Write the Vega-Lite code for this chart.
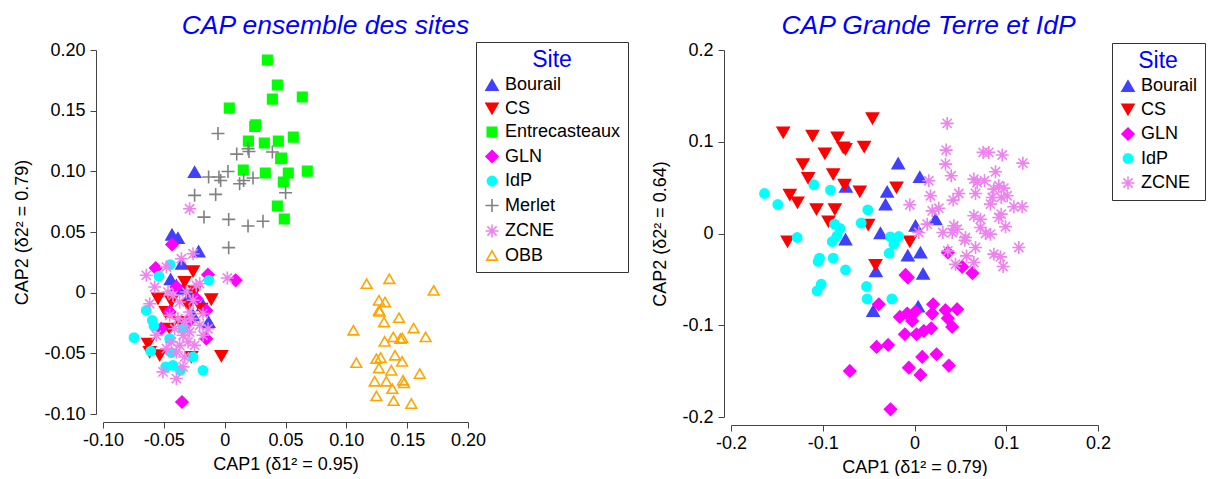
{
  "$schema": "https://vega.github.io/schema/vega-lite/v6.json",
  "padding": {"left": 13, "top": 13, "right": 0, "bottom": 0},
  "background": "white",
  "spacing": 22,
  "align": "none",
  "bounds": "full",
  "config": {
    "view": {"stroke": null},
    "axis": {
      "grid": false, "domainColor": "#444", "tickColor": "#444", "tickSize": 6, "labelFlush": false,
      "labelFont": "Liberation Sans", "labelFontSize": 18, "labelColor": "black", "labelOverlap": false,
      "titleFont": "Liberation Sans", "titleFontSize": 18, "titleFontWeight": "normal", "titleColor": "black"
    },
    "axisX": {"offset": 8, "labelPadding": 3, "titlePadding": 6},
    "axisY": {"offset": 7, "labelPadding": 5, "titlePadding": 12},
    "title": {"font": "Liberation Sans", "fontSize": 26.5, "fontStyle": "italic", "fontWeight": "normal", "color": "#0000FF", "anchor": "middle", "frame": "group", "baseline": "alphabetic", "offset": 1.5},
    "legend": {
      "padding": 7, "strokeColor": "#333", "fillColor": "white",
      "titleColor": "#0000FF", "titleFont": "Liberation Sans", "titleFontSize": 23, "titleFontWeight": "normal", "titleAnchor": "middle", "titlePadding": 4,
      "labelFont": "Liberation Sans", "labelFontSize": 18, "labelColor": "black", "labelOffset": 4, "rowPadding": 5.5,
      "symbolSize": 169, "symbolStrokeWidth": 1.6
    }
  },
  "datasets": {
    "all": [
      {"Site":"Bourail","CAP1":-0.0247,"CAP2":0.0994},{"Site":"Bourail","CAP1":-0.0433,"CAP2":0.0478},{"Site":"Bourail","CAP1":-0.0384,"CAP2":0.0450},{"Site":"Bourail","CAP1":-0.0214,"CAP2":0.0340},{"Site":"Bourail","CAP1":-0.0351,"CAP2":0.0239},{"Site":"Bourail","CAP1":-0.0444,"CAP2":0.0110},{"Site":"Bourail","CAP1":-0.0260,"CAP2":-0.0187},{"Site":"Bourail","CAP1":-0.0132,"CAP2":-0.0242},{"Site":"Bourail","CAP1":-0.0288,"CAP2":-0.0022},{"Site":"Bourail","CAP1":-0.0342,"CAP2":0.0033},{"Site":"Bourail","CAP1":-0.0397,"CAP2":0.0060},{"Site":"Bourail","CAP1":-0.0178,"CAP2":-0.0104},
      {"Site":"CS","CAP1":-0.0260,"CAP2":0.0176},{"Site":"CS","CAP1":-0.0110,"CAP2":-0.0055},{"Site":"CS","CAP1":-0.0027,"CAP2":-0.0522},{"Site":"CS","CAP1":-0.0548,"CAP2":-0.0049},{"Site":"CS","CAP1":-0.0630,"CAP2":-0.0420},{"Site":"CS","CAP1":-0.0534,"CAP2":-0.0516},{"Site":"CS","CAP1":-0.0616,"CAP2":-0.0489},{"Site":"CS","CAP1":-0.0438,"CAP2":-0.0071},{"Site":"CS","CAP1":-0.0247,"CAP2":0.0011},{"Site":"CS","CAP1":-0.0485,"CAP2":-0.0159},{"Site":"CS","CAP1":-0.0301,"CAP2":-0.0104},{"Site":"CS","CAP1":-0.0452,"CAP2":-0.0297},{"Site":"CS","CAP1":-0.0370,"CAP2":-0.0242},{"Site":"CS","CAP1":-0.0274,"CAP2":-0.0530},{"Site":"CS","CAP1":-0.0192,"CAP2":-0.0132},{"Site":"CS","CAP1":-0.0329,"CAP2":0.0088},
      {"Site":"Entrecasteaux","CAP1":0.0351,"CAP2":0.1917},{"Site":"Entrecasteaux","CAP1":0.0433,"CAP2":0.1711},{"Site":"Entrecasteaux","CAP1":0.0392,"CAP2":0.1595},{"Site":"Entrecasteaux","CAP1":0.0638,"CAP2":0.1612},{"Site":"Entrecasteaux","CAP1":0.0038,"CAP2":0.1521},{"Site":"Entrecasteaux","CAP1":0.0247,"CAP2":0.1370},{"Site":"Entrecasteaux","CAP1":0.0255,"CAP2":0.1384},{"Site":"Entrecasteaux","CAP1":0.0195,"CAP2":0.1249},{"Site":"Entrecasteaux","CAP1":0.0326,"CAP2":0.1233},{"Site":"Entrecasteaux","CAP1":0.0441,"CAP2":0.1249},{"Site":"Entrecasteaux","CAP1":0.0564,"CAP2":0.1282},{"Site":"Entrecasteaux","CAP1":0.0468,"CAP2":0.1109},{"Site":"Entrecasteaux","CAP1":0.0460,"CAP2":0.1104},{"Site":"Entrecasteaux","CAP1":0.0153,"CAP2":0.1010},{"Site":"Entrecasteaux","CAP1":0.0334,"CAP2":0.0986},{"Site":"Entrecasteaux","CAP1":0.0523,"CAP2":0.0986},{"Site":"Entrecasteaux","CAP1":0.0679,"CAP2":0.1002},{"Site":"Entrecasteaux","CAP1":0.0482,"CAP2":0.0912},{"Site":"Entrecasteaux","CAP1":0.0433,"CAP2":0.0714},{"Site":"Entrecasteaux","CAP1":0.0490,"CAP2":0.0607},
      {"Site":"GLN","CAP1":-0.0433,"CAP2":0.0398},{"Site":"GLN","CAP1":-0.0567,"CAP2":0.0203},{"Site":"GLN","CAP1":-0.0137,"CAP2":0.0148},{"Site":"GLN","CAP1":0.0090,"CAP2":0.0102},{"Site":"GLN","CAP1":-0.0151,"CAP2":-0.0146},{"Site":"GLN","CAP1":-0.0151,"CAP2":-0.0379},{"Site":"GLN","CAP1":-0.0351,"CAP2":-0.0901},{"Site":"GLN","CAP1":-0.0521,"CAP2":-0.0297},{"Site":"GLN","CAP1":-0.0397,"CAP2":0.0047},{"Site":"GLN","CAP1":-0.0301,"CAP2":-0.0242},{"Site":"GLN","CAP1":-0.0233,"CAP2":-0.0049},{"Site":"GLN","CAP1":-0.0452,"CAP2":-0.0159},
      {"Site":"IdP","CAP1":-0.0447,"CAP2":0.0231},{"Site":"IdP","CAP1":-0.0540,"CAP2":0.0135},{"Site":"IdP","CAP1":-0.0129,"CAP2":0.0102},{"Site":"IdP","CAP1":-0.0644,"CAP2":-0.0146},{"Site":"IdP","CAP1":-0.0595,"CAP2":-0.0228},{"Site":"IdP","CAP1":-0.0581,"CAP2":-0.0275},{"Site":"IdP","CAP1":-0.0745,"CAP2":-0.0371},{"Site":"IdP","CAP1":-0.0608,"CAP2":-0.0483},{"Site":"IdP","CAP1":-0.0485,"CAP2":-0.0612},{"Site":"IdP","CAP1":-0.0425,"CAP2":-0.0599},{"Site":"IdP","CAP1":-0.0178,"CAP2":-0.0640},{"Site":"IdP","CAP1":-0.0260,"CAP2":-0.0530},{"Site":"IdP","CAP1":-0.0438,"CAP2":-0.0494},{"Site":"IdP","CAP1":-0.0364,"CAP2":-0.0640},{"Site":"IdP","CAP1":-0.0452,"CAP2":-0.0379},{"Site":"IdP","CAP1":-0.0342,"CAP2":-0.0297},
      {"Site":"Merlet","CAP1":-0.0055,"CAP2":0.1312},{"Site":"Merlet","CAP1":0.0099,"CAP2":0.1142},{"Site":"Merlet","CAP1":0.0192,"CAP2":0.1186},{"Site":"Merlet","CAP1":0.0200,"CAP2":0.1164},{"Site":"Merlet","CAP1":0.0392,"CAP2":0.1159},{"Site":"Merlet","CAP1":-0.0132,"CAP2":0.0953},{"Site":"Merlet","CAP1":-0.0047,"CAP2":0.0953},{"Site":"Merlet","CAP1":-0.0033,"CAP2":0.0925},{"Site":"Merlet","CAP1":0.0027,"CAP2":0.0999},{"Site":"Merlet","CAP1":0.0123,"CAP2":0.0898},{"Site":"Merlet","CAP1":0.0156,"CAP2":0.0925},{"Site":"Merlet","CAP1":0.0233,"CAP2":0.0945},{"Site":"Merlet","CAP1":0.0501,"CAP2":0.0824},{"Site":"Merlet","CAP1":-0.0247,"CAP2":0.0802},{"Site":"Merlet","CAP1":-0.0074,"CAP2":0.0810},{"Site":"Merlet","CAP1":-0.0170,"CAP2":0.0623},{"Site":"Merlet","CAP1":0.0033,"CAP2":0.0604},{"Site":"Merlet","CAP1":0.0192,"CAP2":0.0549},{"Site":"Merlet","CAP1":0.0315,"CAP2":0.0588},{"Site":"Merlet","CAP1":0.0033,"CAP2":0.0371},
      {"Site":"ZCNE","CAP1":-0.0288,"CAP2":0.0692},{"Site":"ZCNE","CAP1":-0.0260,"CAP2":0.0321},{"Site":"ZCNE","CAP1":-0.0356,"CAP2":0.0280},{"Site":"ZCNE","CAP1":-0.0479,"CAP2":0.0211},{"Site":"ZCNE","CAP1":-0.0644,"CAP2":0.0143},{"Site":"ZCNE","CAP1":-0.0575,"CAP2":0.0047},{"Site":"ZCNE","CAP1":-0.0205,"CAP2":0.0074},{"Site":"ZCNE","CAP1":0.0022,"CAP2":0.0121},{"Site":"ZCNE","CAP1":-0.0616,"CAP2":-0.0091},{"Site":"ZCNE","CAP1":-0.0562,"CAP2":-0.0351},{"Site":"ZCNE","CAP1":-0.0137,"CAP2":-0.0297},{"Site":"ZCNE","CAP1":-0.0507,"CAP2":-0.0653},{"Site":"ZCNE","CAP1":-0.0397,"CAP2":-0.0708},{"Site":"ZCNE","CAP1":-0.0342,"CAP2":-0.0612},
      {"Site":"ZCNE","CAP1":-0.0425,"CAP2":-0.0022},{"Site":"ZCNE","CAP1":-0.0370,"CAP2":-0.0077},{"Site":"ZCNE","CAP1":-0.0315,"CAP2":0.0005},{"Site":"ZCNE","CAP1":-0.0260,"CAP2":-0.0063},{"Site":"ZCNE","CAP1":-0.0452,"CAP2":-0.0187},{"Site":"ZCNE","CAP1":-0.0384,"CAP2":-0.0214},{"Site":"ZCNE","CAP1":-0.0329,"CAP2":-0.0242},{"Site":"ZCNE","CAP1":-0.0274,"CAP2":-0.0214},{"Site":"ZCNE","CAP1":-0.0205,"CAP2":-0.0269},{"Site":"ZCNE","CAP1":-0.0411,"CAP2":-0.0297},{"Site":"ZCNE","CAP1":-0.0342,"CAP2":-0.0351},{"Site":"ZCNE","CAP1":-0.0288,"CAP2":-0.0324},{"Site":"ZCNE","CAP1":-0.0438,"CAP2":-0.0406},{"Site":"ZCNE","CAP1":-0.0370,"CAP2":-0.0434},{"Site":"ZCNE","CAP1":-0.0301,"CAP2":-0.0406},{"Site":"ZCNE","CAP1":-0.0397,"CAP2":-0.0489},{"Site":"ZCNE","CAP1":-0.0329,"CAP2":-0.0530},{"Site":"ZCNE","CAP1":-0.0247,"CAP2":-0.0434},{"Site":"ZCNE","CAP1":-0.0178,"CAP2":-0.0351},{"Site":"ZCNE","CAP1":-0.0479,"CAP2":-0.0461},{"Site":"ZCNE","CAP1":-0.0288,"CAP2":-0.0159},{"Site":"ZCNE","CAP1":-0.0178,"CAP2":-0.0173},{"Site":"ZCNE","CAP1":-0.0233,"CAP2":0.0060},{"Site":"ZCNE","CAP1":-0.0466,"CAP2":0.0005},
      {"Site":"OBB","CAP1":0.1167,"CAP2":0.0074},{"Site":"OBB","CAP1":0.1353,"CAP2":0.0115},{"Site":"OBB","CAP1":0.1718,"CAP2":0.0019},{"Site":"OBB","CAP1":0.1268,"CAP2":-0.0063},{"Site":"OBB","CAP1":0.1318,"CAP2":-0.0077},{"Site":"OBB","CAP1":0.1268,"CAP2":-0.0146},{"Site":"OBB","CAP1":0.1274,"CAP2":-0.0154},{"Site":"OBB","CAP1":0.1310,"CAP2":-0.0242},{"Site":"OBB","CAP1":0.1433,"CAP2":-0.0206},{"Site":"OBB","CAP1":0.1058,"CAP2":-0.0310},{"Site":"OBB","CAP1":0.1553,"CAP2":-0.0291},{"Site":"OBB","CAP1":0.1652,"CAP2":-0.0365},{"Site":"OBB","CAP1":0.1315,"CAP2":-0.0401},{"Site":"OBB","CAP1":0.1386,"CAP2":-0.0365},{"Site":"OBB","CAP1":0.1444,"CAP2":-0.0379},{"Site":"OBB","CAP1":0.1460,"CAP2":-0.0373},{"Site":"OBB","CAP1":0.1082,"CAP2":-0.0577},{"Site":"OBB","CAP1":0.1247,"CAP2":-0.0544},{"Site":"OBB","CAP1":0.1282,"CAP2":-0.0535},{"Site":"OBB","CAP1":0.1400,"CAP2":-0.0516},{"Site":"OBB","CAP1":0.1458,"CAP2":-0.0566},{"Site":"OBB","CAP1":0.1268,"CAP2":-0.0621},{"Site":"OBB","CAP1":0.1370,"CAP2":-0.0640},{"Site":"OBB","CAP1":0.1603,"CAP2":-0.0667},{"Site":"OBB","CAP1":0.1233,"CAP2":-0.0730},{"Site":"OBB","CAP1":0.1329,"CAP2":-0.0730},{"Site":"OBB","CAP1":0.1466,"CAP2":-0.0722},{"Site":"OBB","CAP1":0.1474,"CAP2":-0.0744},{"Site":"OBB","CAP1":0.1378,"CAP2":-0.0791},{"Site":"OBB","CAP1":0.1247,"CAP2":-0.0851},{"Site":"OBB","CAP1":0.1389,"CAP2":-0.0890},{"Site":"OBB","CAP1":0.1534,"CAP2":-0.0914}
    ],
    "gti": [
      {"Site":"Bourail","CAP1":-0.0178,"CAP2":0.0764},{"Site":"Bourail","CAP1":-0.0748,"CAP2":0.0509},{"Site":"Bourail","CAP1":-0.0298,"CAP2":0.0455},{"Site":"Bourail","CAP1":-0.0316,"CAP2":0.0316},{"Site":"Bourail","CAP1":0.0058,"CAP2":0.0615},{"Site":"Bourail","CAP1":0.0229,"CAP2":0.0156},{"Site":"Bourail","CAP1":0.0011,"CAP2":0.0084},{"Site":"Bourail","CAP1":-0.0752,"CAP2":-0.0065},{"Site":"Bourail","CAP1":-0.0371,"CAP2":0.0004},{"Site":"Bourail","CAP1":-0.0073,"CAP2":-0.0240},{"Site":"Bourail","CAP1":0.0065,"CAP2":-0.0207},{"Site":"Bourail","CAP1":-0.0421,"CAP2":-0.0411},{"Site":"Bourail","CAP1":0.0094,"CAP2":-0.0440},{"Site":"Bourail","CAP1":-0.0451,"CAP2":-0.0844},{"Site":"Bourail","CAP1":0.0040,"CAP2":-0.0796},
      {"Site":"CS","CAP1":-0.0458,"CAP2":0.1255},{"Site":"CS","CAP1":-0.1431,"CAP2":0.1102},{"Site":"CS","CAP1":-0.1112,"CAP2":0.1065},{"Site":"CS","CAP1":-0.0839,"CAP2":0.1047},{"Site":"CS","CAP1":-0.0752,"CAP2":0.0920},{"Site":"CS","CAP1":-0.0777,"CAP2":0.0938},{"Site":"CS","CAP1":-0.0549,"CAP2":0.0945},{"Site":"CS","CAP1":-0.0977,"CAP2":0.0873},{"Site":"CS","CAP1":-0.1217,"CAP2":0.0756},{"Site":"CS","CAP1":-0.1159,"CAP2":0.0604},{"Site":"CS","CAP1":-0.0886,"CAP2":0.0647},{"Site":"CS","CAP1":-0.0763,"CAP2":0.0531},{"Site":"CS","CAP1":-0.0596,"CAP2":0.0458},{"Site":"CS","CAP1":-0.1359,"CAP2":0.0422},{"Site":"CS","CAP1":-0.1275,"CAP2":0.0338},{"Site":"CS","CAP1":-0.1068,"CAP2":0.0265},{"Site":"CS","CAP1":-0.0868,"CAP2":0.0265},{"Site":"CS","CAP1":-0.0937,"CAP2":0.0131},{"Site":"CS","CAP1":-0.0505,"CAP2":0.0095},{"Site":"CS","CAP1":-0.1384,"CAP2":-0.0087},{"Site":"CS","CAP1":-0.0196,"CAP2":0.0502},{"Site":"CS","CAP1":-0.0051,"CAP2":-0.0087},{"Site":"CS","CAP1":-0.0425,"CAP2":-0.0342},
      {"Site":"GLN","CAP1":-0.0098,"CAP2":-0.0451},{"Site":"GLN","CAP1":-0.0073,"CAP2":-0.0480},{"Site":"GLN","CAP1":-0.0389,"CAP2":-0.0771},{"Site":"GLN","CAP1":0.0520,"CAP2":-0.0364},{"Site":"GLN","CAP1":0.0632,"CAP2":-0.0433},{"Site":"GLN","CAP1":0.0363,"CAP2":-0.0207},{"Site":"GLN","CAP1":-0.0160,"CAP2":-0.0909},{"Site":"GLN","CAP1":-0.0080,"CAP2":-0.0873},{"Site":"GLN","CAP1":-0.0025,"CAP2":-0.0953},{"Site":"GLN","CAP1":0.0011,"CAP2":-0.0851},{"Site":"GLN","CAP1":0.0203,"CAP2":-0.0771},{"Site":"GLN","CAP1":0.0338,"CAP2":-0.0836},{"Site":"GLN","CAP1":0.0465,"CAP2":-0.0825},{"Site":"GLN","CAP1":0.0193,"CAP2":-0.0873},{"Site":"GLN","CAP1":0.0363,"CAP2":-0.0924},{"Site":"GLN","CAP1":0.0411,"CAP2":-0.1018},{"Site":"GLN","CAP1":-0.0105,"CAP2":-0.1098},{"Site":"GLN","CAP1":0.0022,"CAP2":-0.1098},{"Site":"GLN","CAP1":0.0102,"CAP2":-0.1062},{"Site":"GLN","CAP1":0.0182,"CAP2":-0.1033},{"Site":"GLN","CAP1":-0.0414,"CAP2":-0.1236},{"Site":"GLN","CAP1":-0.0287,"CAP2":-0.1215},{"Site":"GLN","CAP1":0.0084,"CAP2":-0.1345},{"Site":"GLN","CAP1":0.0240,"CAP2":-0.1316},{"Site":"GLN","CAP1":-0.0062,"CAP2":-0.1462},{"Site":"GLN","CAP1":0.0065,"CAP2":-0.1542},{"Site":"GLN","CAP1":0.0374,"CAP2":-0.1440},{"Site":"GLN","CAP1":-0.0705,"CAP2":-0.1498},{"Site":"GLN","CAP1":-0.0262,"CAP2":-0.1916},
      {"Site":"IdP","CAP1":-0.1635,"CAP2":0.0436},{"Site":"IdP","CAP1":-0.1490,"CAP2":0.0316},{"Site":"IdP","CAP1":-0.1097,"CAP2":0.0531},{"Site":"IdP","CAP1":-0.0916,"CAP2":0.0473},{"Site":"IdP","CAP1":-0.0509,"CAP2":0.0258},{"Site":"IdP","CAP1":-0.0581,"CAP2":0.0113},{"Site":"IdP","CAP1":-0.0872,"CAP2":0.0102},{"Site":"IdP","CAP1":-0.0814,"CAP2":0.0055},{"Site":"IdP","CAP1":-0.0843,"CAP2":-0.0025},{"Site":"IdP","CAP1":-0.0897,"CAP2":-0.0087},{"Site":"IdP","CAP1":-0.1279,"CAP2":-0.0044},{"Site":"IdP","CAP1":-0.1035,"CAP2":-0.0269},{"Site":"IdP","CAP1":-0.1050,"CAP2":-0.0305},{"Site":"IdP","CAP1":-0.0886,"CAP2":-0.0269},{"Site":"IdP","CAP1":-0.0752,"CAP2":-0.0396},{"Site":"IdP","CAP1":-0.1017,"CAP2":-0.0553},{"Site":"IdP","CAP1":-0.1061,"CAP2":-0.0625},{"Site":"IdP","CAP1":-0.0523,"CAP2":-0.0578},{"Site":"IdP","CAP1":-0.0516,"CAP2":-0.0713},{"Site":"IdP","CAP1":-0.0247,"CAP2":-0.0713},{"Site":"IdP","CAP1":-0.0262,"CAP2":-0.0036},{"Site":"IdP","CAP1":-0.0171,"CAP2":-0.0033},{"Site":"IdP","CAP1":-0.0225,"CAP2":-0.0116},{"Site":"IdP","CAP1":-0.0276,"CAP2":-0.0215},
      {"Site":"ZCNE","CAP1":0.0356,"CAP2":0.1200},{"Site":"ZCNE","CAP1":0.0345,"CAP2":0.0909},{"Site":"ZCNE","CAP1":0.0338,"CAP2":0.0756},{"Site":"ZCNE","CAP1":0.0400,"CAP2":0.0629},{"Site":"ZCNE","CAP1":0.0156,"CAP2":0.0575},{"Site":"ZCNE","CAP1":0.0748,"CAP2":0.0884},{"Site":"ZCNE","CAP1":0.0810,"CAP2":0.0884},{"Site":"ZCNE","CAP1":0.0956,"CAP2":0.0855},{"Site":"ZCNE","CAP1":0.1181,"CAP2":0.0767},{"Site":"ZCNE","CAP1":0.0883,"CAP2":0.0673},{"Site":"ZCNE","CAP1":0.0647,"CAP2":0.0593},{"Site":"ZCNE","CAP1":0.0683,"CAP2":0.0556},{"Site":"ZCNE","CAP1":0.0763,"CAP2":0.0575},{"Site":"ZCNE","CAP1":0.0174,"CAP2":0.0411},{"Site":"ZCNE","CAP1":0.0483,"CAP2":0.0436},{"Site":"ZCNE","CAP1":0.0421,"CAP2":0.0364},{"Site":"ZCNE","CAP1":0.0665,"CAP2":0.0436},{"Site":"ZCNE","CAP1":0.0865,"CAP2":0.0484},{"Site":"ZCNE","CAP1":0.0919,"CAP2":0.0520},{"Site":"ZCNE","CAP1":0.0974,"CAP2":0.0495},{"Site":"ZCNE","CAP1":0.1010,"CAP2":0.0411},{"Site":"ZCNE","CAP1":0.0945,"CAP2":0.0393},{"Site":"ZCNE","CAP1":0.0847,"CAP2":0.0393},{"Site":"ZCNE","CAP1":0.1083,"CAP2":0.0291},{"Site":"ZCNE","CAP1":0.1173,"CAP2":0.0291},{"Site":"ZCNE","CAP1":-0.0051,"CAP2":0.0313},{"Site":"ZCNE","CAP1":0.0193,"CAP2":0.0247},{"Site":"ZCNE","CAP1":0.0265,"CAP2":0.0276},{"Site":"ZCNE","CAP1":0.0828,"CAP2":0.0320},{"Site":"ZCNE","CAP1":0.0945,"CAP2":0.0211},{"Site":"ZCNE","CAP1":0.0919,"CAP2":0.0175},{"Site":"ZCNE","CAP1":0.0647,"CAP2":0.0193},{"Site":"ZCNE","CAP1":0.0719,"CAP2":0.0156},{"Site":"ZCNE","CAP1":0.0992,"CAP2":0.0073},{"Site":"ZCNE","CAP1":0.0138,"CAP2":0.0102},{"Site":"ZCNE","CAP1":0.0047,"CAP2":0.0011},{"Site":"ZCNE","CAP1":0.0429,"CAP2":0.0084},{"Site":"ZCNE","CAP1":0.0465,"CAP2":0.0047},{"Site":"ZCNE","CAP1":0.0411,"CAP2":0.0011},{"Site":"ZCNE","CAP1":0.0309,"CAP2":0.0011},{"Site":"ZCNE","CAP1":0.0556,"CAP2":-0.0044},{"Site":"ZCNE","CAP1":0.0719,"CAP2":0.0065},{"Site":"ZCNE","CAP1":0.0774,"CAP2":0.0000},{"Site":"ZCNE","CAP1":0.0828,"CAP2":-0.0007},{"Site":"ZCNE","CAP1":0.0665,"CAP2":-0.0153},{"Site":"ZCNE","CAP1":0.0865,"CAP2":-0.0225},{"Site":"ZCNE","CAP1":0.0363,"CAP2":-0.0189},{"Site":"ZCNE","CAP1":0.0567,"CAP2":-0.0244},{"Site":"ZCNE","CAP1":0.0447,"CAP2":-0.0335},{"Site":"ZCNE","CAP1":0.0647,"CAP2":-0.0316},{"Site":"ZCNE","CAP1":0.0937,"CAP2":-0.0255},{"Site":"ZCNE","CAP1":0.0966,"CAP2":-0.0360},{"Site":"ZCNE","CAP1":0.1137,"CAP2":-0.0153},{"Site":"ZCNE","CAP1":0.0549,"CAP2":-0.0073}
    ]
  },
  "hconcat": [
    {
      "data": {"name": "all"},
      "width": 365, "height": 364,
      "title": {"text": "CAP ensemble des sites", "dx": 40},
      "mark": {"type": "point", "size": 169, "strokeWidth": 1.6, "opacity": 1},
      "encoding": {
        "x": {"field": "CAP1", "type": "quantitative",
          "scale": {"domain": [-0.1, 0.2], "nice": false, "zero": false},
          "axis": {"title": "CAP1 (δ1² = 0.95)", "values": [-0.1, -0.05, 0, 0.05, 0.1, 0.15, 0.2],
            "labelExpr": "datum.value == 0 ? '0' : (datum.value < 0 ? '-' : '') + format(abs(datum.value), '.2f')"}},
        "y": {"field": "CAP2", "type": "quantitative",
          "scale": {"domain": [-0.1, 0.2], "nice": false, "zero": false},
          "axis": {"title": "CAP2 (δ2² = 0.79)", "values": [-0.1, -0.05, 0, 0.05, 0.1, 0.15, 0.2],
            "labelExpr": "datum.value == 0 ? '0' : (datum.value < 0 ? '-' : '') + format(abs(datum.value), '.2f')"}},
        "shape": {"field": "Site", "type": "nominal",
          "scale": {"domain": ["Bourail", "CS", "Entrecasteaux", "GLN", "IdP", "Merlet", "ZCNE", "OBB"],
            "range": ["M0,-0.8L0.92,0.8L-0.92,0.8Z", "M0,0.8L0.92,-0.8L-0.92,-0.8Z", "M-0.73,-0.73H0.73V0.73H-0.73Z", "M0,-0.92L0.92,0L0,0.92L-0.92,0Z", "M-0.71,0A0.71,0.71,0,1,0,0.71,0A0.71,0.71,0,1,0,-0.71,0Z", "M-1,0H1M0,-1V1", "M-1,0H1M0,-1V1M-0.71,-0.71L0.71,0.71M-0.71,0.71L0.71,-0.71", "M0,-0.71L0.82,0.71L-0.82,0.71Z"]},
          "legend": {"title": "Site", "orient": "none", "legendX": 373, "legendY": -8}},
        "fill": {"field": "Site", "type": "nominal",
          "scale": {"domain": ["Bourail", "CS", "Entrecasteaux", "GLN", "IdP", "Merlet", "ZCNE", "OBB"],
            "range": ["#4040FF", "#FF0000", "#00FF00", "#FF00FF", "#00FFFF", "transparent", "transparent", "transparent"]},
          "legend": {"title": "Site", "orient": "none", "legendX": 373, "legendY": -8}},
        "stroke": {"field": "Site", "type": "nominal",
          "scale": {"domain": ["Bourail", "CS", "Entrecasteaux", "GLN", "IdP", "Merlet", "ZCNE", "OBB"],
            "range": ["#4040FF", "#FF0000", "#00FF00", "#FF00FF", "#00FFFF", "#808080", "#EE82EE", "#FFA500"]},
          "legend": {"title": "Site", "orient": "none", "legendX": 373, "legendY": -8}}
      }
    },
    {
      "data": {"name": "gti"},
      "width": 367, "height": 367,
      "title": {"text": "CAP Grande Terre et IdP", "dx": 14},
      "mark": {"type": "point", "size": 169, "strokeWidth": 1.6, "opacity": 1},
      "encoding": {
        "x": {"field": "CAP1", "type": "quantitative",
          "scale": {"domain": [-0.2, 0.2], "nice": false, "zero": false},
          "axis": {"title": "CAP1 (δ1² = 0.79)", "values": [-0.2, -0.1, 0, 0.1, 0.2],
            "labelExpr": "datum.value == 0 ? '0' : (datum.value < 0 ? '-' : '') + format(abs(datum.value), '.1f')"}},
        "y": {"field": "CAP2", "type": "quantitative",
          "scale": {"domain": [-0.2, 0.2], "nice": false, "zero": false},
          "axis": {"title": "CAP2 (δ2² = 0.64)", "values": [-0.2, -0.1, 0, 0.1, 0.2],
            "labelExpr": "datum.value == 0 ? '0' : (datum.value < 0 ? '-' : '') + format(abs(datum.value), '.1f')"}},
        "shape": {"field": "Site", "type": "nominal",
          "scale": {"domain": ["Bourail", "CS", "GLN", "IdP", "ZCNE"],
            "range": ["M0,-0.8L0.92,0.8L-0.92,0.8Z", "M0,0.8L0.92,-0.8L-0.92,-0.8Z", "M0,-0.92L0.92,0L0,0.92L-0.92,0Z", "M-0.71,0A0.71,0.71,0,1,0,0.71,0A0.71,0.71,0,1,0,-0.71,0Z", "M-1,0H1M0,-1V1M-0.71,-0.71L0.71,0.71M-0.71,0.71L0.71,-0.71"]},
          "legend": {"title": "Site", "orient": "none", "legendX": 381, "legendY": -7}},
        "fill": {"field": "Site", "type": "nominal",
          "scale": {"domain": ["Bourail", "CS", "GLN", "IdP", "ZCNE"],
            "range": ["#4040FF", "#FF0000", "#FF00FF", "#00FFFF", "transparent"]},
          "legend": {"title": "Site", "orient": "none", "legendX": 381, "legendY": -7}},
        "stroke": {"field": "Site", "type": "nominal",
          "scale": {"domain": ["Bourail", "CS", "GLN", "IdP", "ZCNE"],
            "range": ["#4040FF", "#FF0000", "#FF00FF", "#00FFFF", "#EE82EE"]},
          "legend": {"title": "Site", "orient": "none", "legendX": 381, "legendY": -7}}
      }
    }
  ],
  "resolve": {
    "scale": {"x": "independent", "y": "independent", "shape": "independent", "fill": "independent", "stroke": "independent"},
    "legend": {"shape": "independent", "fill": "independent", "stroke": "independent"}
  }
}
